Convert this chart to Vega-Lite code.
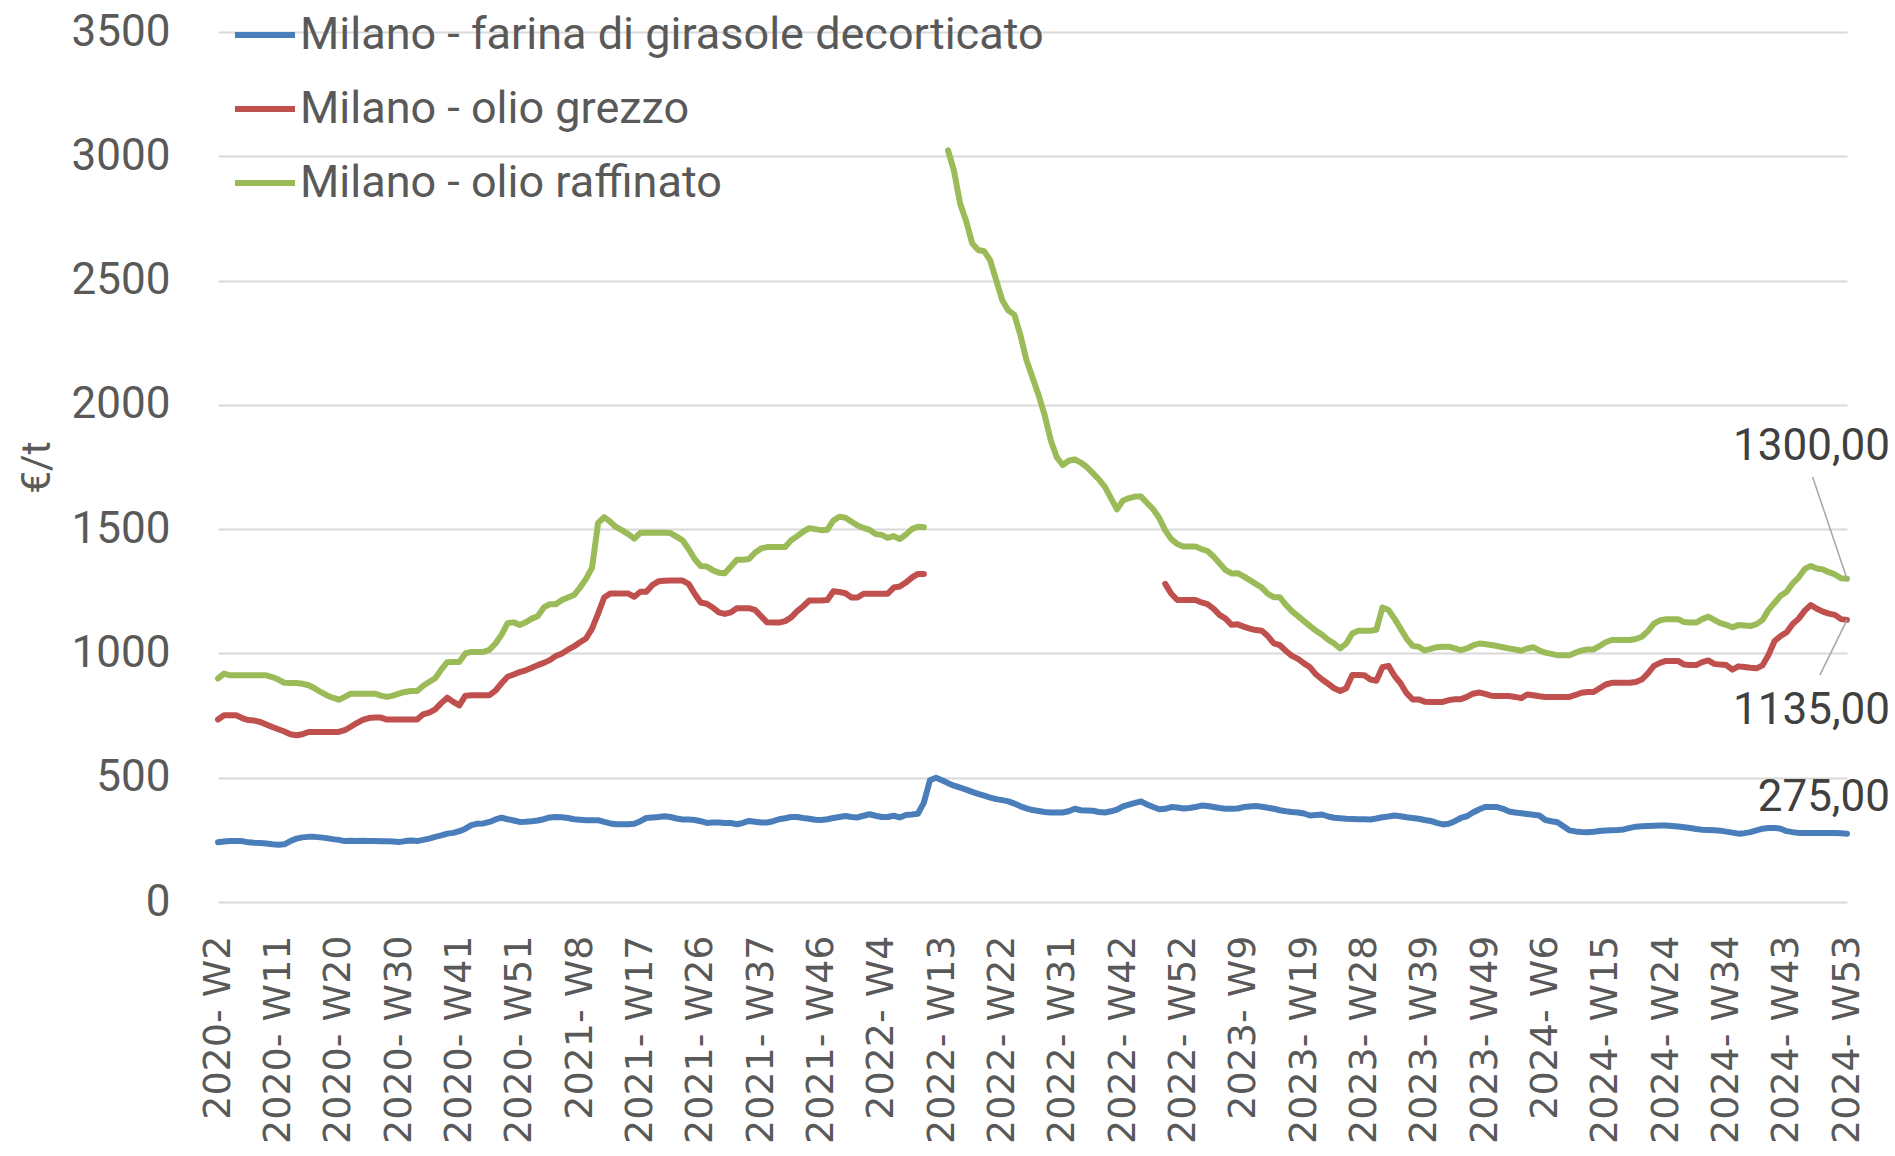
{
"$schema":"https://vega.github.io/schema/vega-lite/v6.json",
"width":1629,"height":870,
"autosize":{"type":"none"},
"padding":{"left":218,"top":32,"right":48,"bottom":254},
"background":"white",
"config":{"view":{"stroke":null},"font":"Roboto","locale":{"number":{"decimal":",","thousands":".","grouping":[3],"currency":["","€"]}}},
"data":{"values":[
{"n":0,"farina":240,"grezzo":734,"raffinato":899},{"n":1,"farina":243,"grezzo":751,"raffinato":919},{"n":2,"farina":245,"grezzo":751,"raffinato":912},{"n":3,"farina":245,"grezzo":751,"raffinato":912},{"n":4,"farina":245,"grezzo":740,"raffinato":912},{"n":5,"farina":240,"grezzo":732,"raffinato":912},{"n":6,"farina":238,"grezzo":730,"raffinato":912},{"n":7,"farina":237,"grezzo":724,"raffinato":912},{"n":8,"farina":235,"grezzo":714,"raffinato":912},{"n":9,"farina":232,"grezzo":704,"raffinato":905},
{"n":10,"farina":230,"grezzo":695,"raffinato":895},{"n":11,"farina":232,"grezzo":686,"raffinato":882},{"n":12,"farina":245,"grezzo":675,"raffinato":881},{"n":13,"farina":255,"grezzo":671,"raffinato":881},{"n":14,"farina":260,"grezzo":675,"raffinato":878},{"n":15,"farina":262,"grezzo":684,"raffinato":872},{"n":16,"farina":262,"grezzo":684,"raffinato":860},{"n":17,"farina":260,"grezzo":684,"raffinato":845},{"n":18,"farina":257,"grezzo":684,"raffinato":832},{"n":19,"farina":253,"grezzo":684,"raffinato":822},
{"n":20,"farina":250,"grezzo":684,"raffinato":814},{"n":21,"farina":245,"grezzo":691,"raffinato":825},{"n":22,"farina":246,"grezzo":705,"raffinato":838},{"n":23,"farina":245,"grezzo":720,"raffinato":838},{"n":24,"farina":246,"grezzo":733,"raffinato":838},{"n":25,"farina":245,"grezzo":740,"raffinato":838},{"n":26,"farina":245,"grezzo":742,"raffinato":838},{"n":27,"farina":244,"grezzo":742,"raffinato":830},{"n":28,"farina":244,"grezzo":734,"raffinato":825},{"n":29,"farina":243,"grezzo":734,"raffinato":830},
{"n":30,"farina":241,"grezzo":734,"raffinato":838},{"n":31,"farina":245,"grezzo":734,"raffinato":845},{"n":32,"farina":247,"grezzo":734,"raffinato":849},{"n":33,"farina":245,"grezzo":734,"raffinato":849},{"n":34,"farina":250,"grezzo":755,"raffinato":870},{"n":35,"farina":255,"grezzo":762,"raffinato":885},{"n":36,"farina":262,"grezzo":775,"raffinato":900},{"n":37,"farina":268,"grezzo":800,"raffinato":935},{"n":38,"farina":275,"grezzo":822,"raffinato":965},{"n":39,"farina":278,"grezzo":805,"raffinato":966},
{"n":40,"farina":285,"grezzo":791,"raffinato":966},{"n":41,"farina":295,"grezzo":830,"raffinato":1000},{"n":42,"farina":309,"grezzo":832,"raffinato":1006},{"n":43,"farina":315,"grezzo":832,"raffinato":1006},{"n":44,"farina":316,"grezzo":832,"raffinato":1006},{"n":45,"farina":322,"grezzo":832,"raffinato":1015},{"n":46,"farina":332,"grezzo":850,"raffinato":1040},{"n":47,"farina":339,"grezzo":880,"raffinato":1075},{"n":48,"farina":333,"grezzo":906,"raffinato":1122},{"n":49,"farina":328,"grezzo":915,"raffinato":1125},
{"n":50,"farina":322,"grezzo":925,"raffinato":1114},{"n":51,"farina":323,"grezzo":932,"raffinato":1125},{"n":52,"farina":325,"grezzo":942,"raffinato":1140},{"n":53,"farina":328,"grezzo":953,"raffinato":1150},{"n":54,"farina":333,"grezzo":962,"raffinato":1185},{"n":55,"farina":340,"grezzo":973,"raffinato":1198},{"n":56,"farina":342,"grezzo":990,"raffinato":1198},{"n":57,"farina":341,"grezzo":1000,"raffinato":1215},{"n":58,"farina":338,"grezzo":1015,"raffinato":1225},{"n":59,"farina":333,"grezzo":1028,"raffinato":1235},
{"n":60,"farina":331,"grezzo":1045,"raffinato":1265},{"n":61,"farina":329,"grezzo":1060,"raffinato":1300},{"n":62,"farina":329,"grezzo":1100,"raffinato":1345},{"n":63,"farina":329,"grezzo":1160,"raffinato":1525},{"n":64,"farina":322,"grezzo":1225,"raffinato":1548},{"n":65,"farina":316,"grezzo":1241,"raffinato":1530},{"n":66,"farina":313,"grezzo":1241,"raffinato":1508},{"n":67,"farina":313,"grezzo":1241,"raffinato":1495},{"n":68,"farina":313,"grezzo":1241,"raffinato":1480},{"n":69,"farina":315,"grezzo":1228,"raffinato":1462},
{"n":70,"farina":325,"grezzo":1248,"raffinato":1485},{"n":71,"farina":338,"grezzo":1248,"raffinato":1485},{"n":72,"farina":340,"grezzo":1275,"raffinato":1485},{"n":73,"farina":342,"grezzo":1290,"raffinato":1485},{"n":74,"farina":345,"grezzo":1292,"raffinato":1485},{"n":75,"farina":342,"grezzo":1293,"raffinato":1484},{"n":76,"farina":336,"grezzo":1293,"raffinato":1470},{"n":77,"farina":332,"grezzo":1293,"raffinato":1455},{"n":78,"farina":332,"grezzo":1280,"raffinato":1420},{"n":79,"farina":330,"grezzo":1240,"raffinato":1380},
{"n":80,"farina":325,"grezzo":1205,"raffinato":1352},{"n":81,"farina":318,"grezzo":1200,"raffinato":1350},{"n":82,"farina":320,"grezzo":1185,"raffinato":1335},{"n":83,"farina":320,"grezzo":1165,"raffinato":1325},{"n":84,"farina":318,"grezzo":1159,"raffinato":1323},{"n":85,"farina":318,"grezzo":1165,"raffinato":1350},{"n":86,"farina":313,"grezzo":1182,"raffinato":1377},{"n":87,"farina":318,"grezzo":1182,"raffinato":1377},{"n":88,"farina":326,"grezzo":1182,"raffinato":1380},{"n":89,"farina":323,"grezzo":1175,"raffinato":1405},
{"n":90,"farina":320,"grezzo":1150,"raffinato":1422},{"n":91,"farina":320,"grezzo":1125,"raffinato":1428},{"n":92,"farina":325,"grezzo":1124,"raffinato":1428},{"n":93,"farina":333,"grezzo":1124,"raffinato":1428},{"n":94,"farina":337,"grezzo":1130,"raffinato":1428},{"n":95,"farina":342,"grezzo":1145,"raffinato":1455},{"n":96,"farina":342,"grezzo":1170,"raffinato":1472},{"n":97,"farina":338,"grezzo":1190,"raffinato":1490},{"n":98,"farina":335,"grezzo":1213,"raffinato":1504},{"n":99,"farina":331,"grezzo":1213,"raffinato":1500},
{"n":100,"farina":330,"grezzo":1213,"raffinato":1496},{"n":101,"farina":333,"grezzo":1215,"raffinato":1498},{"n":102,"farina":338,"grezzo":1250,"raffinato":1535},{"n":103,"farina":342,"grezzo":1247,"raffinato":1550},{"n":104,"farina":346,"grezzo":1242,"raffinato":1546},{"n":105,"farina":342,"grezzo":1225,"raffinato":1530},{"n":106,"farina":340,"grezzo":1225,"raffinato":1515},{"n":107,"farina":347,"grezzo":1240,"raffinato":1505},{"n":108,"farina":353,"grezzo":1240,"raffinato":1497},{"n":109,"farina":347,"grezzo":1240,"raffinato":1480},
{"n":110,"farina":342,"grezzo":1240,"raffinato":1477},{"n":111,"farina":342,"grezzo":1240,"raffinato":1465},{"n":112,"farina":347,"grezzo":1265,"raffinato":1472},{"n":113,"farina":340,"grezzo":1269,"raffinato":1460},{"n":114,"farina":350,"grezzo":1285,"raffinato":1478},{"n":115,"farina":352,"grezzo":1305,"raffinato":1500},{"n":116,"farina":355,"grezzo":1320,"raffinato":1510},{"n":117,"farina":400,"grezzo":1320,"raffinato":1508},{"n":118,"farina":490,"grezzo":null,"raffinato":null},{"n":119,"farina":500,"grezzo":null,"raffinato":null},
{"n":120,"farina":490,"grezzo":null,"raffinato":null},{"n":121,"farina":478,"grezzo":null,"raffinato":3024},{"n":122,"farina":468,"grezzo":null,"raffinato":2940},{"n":123,"farina":460,"grezzo":null,"raffinato":2810},{"n":124,"farina":452,"grezzo":null,"raffinato":2740},{"n":125,"farina":443,"grezzo":null,"raffinato":2650},{"n":126,"farina":435,"grezzo":null,"raffinato":2623},{"n":127,"farina":428,"grezzo":null,"raffinato":2618},{"n":128,"farina":420,"grezzo":null,"raffinato":2580},{"n":129,"farina":414,"grezzo":null,"raffinato":2500},
{"n":130,"farina":410,"grezzo":null,"raffinato":2420},{"n":131,"farina":405,"grezzo":null,"raffinato":2380},{"n":132,"farina":396,"grezzo":null,"raffinato":2362},{"n":133,"farina":385,"grezzo":null,"raffinato":2280},{"n":134,"farina":377,"grezzo":null,"raffinato":2180},{"n":135,"farina":370,"grezzo":null,"raffinato":2110},{"n":136,"farina":366,"grezzo":null,"raffinato":2040},{"n":137,"farina":362,"grezzo":null,"raffinato":1960},{"n":138,"farina":360,"grezzo":null,"raffinato":1860},{"n":139,"farina":360,"grezzo":null,"raffinato":1790},
{"n":140,"farina":360,"grezzo":null,"raffinato":1758},{"n":141,"farina":365,"grezzo":null,"raffinato":1775},{"n":142,"farina":375,"grezzo":null,"raffinato":1781},{"n":143,"farina":369,"grezzo":null,"raffinato":1768},{"n":144,"farina":368,"grezzo":null,"raffinato":1750},{"n":145,"farina":367,"grezzo":null,"raffinato":1725},{"n":146,"farina":362,"grezzo":null,"raffinato":1700},{"n":147,"farina":360,"grezzo":null,"raffinato":1670},{"n":148,"farina":365,"grezzo":null,"raffinato":1625},{"n":149,"farina":372,"grezzo":null,"raffinato":1580},
{"n":150,"farina":385,"grezzo":null,"raffinato":1615},{"n":151,"farina":392,"grezzo":null,"raffinato":1625},{"n":152,"farina":399,"grezzo":null,"raffinato":1631},{"n":153,"farina":405,"grezzo":null,"raffinato":1631},{"n":154,"farina":392,"grezzo":null,"raffinato":1605},{"n":155,"farina":382,"grezzo":null,"raffinato":1580},{"n":156,"farina":373,"grezzo":null,"raffinato":1545},{"n":157,"farina":375,"grezzo":1280,"raffinato":1495},{"n":158,"farina":382,"grezzo":1240,"raffinato":1460},{"n":159,"farina":380,"grezzo":1215,"raffinato":1440},
{"n":160,"farina":376,"grezzo":1215,"raffinato":1430},{"n":161,"farina":378,"grezzo":1215,"raffinato":1430},{"n":162,"farina":382,"grezzo":1215,"raffinato":1430},{"n":163,"farina":388,"grezzo":1205,"raffinato":1420},{"n":164,"farina":386,"grezzo":1198,"raffinato":1412},{"n":165,"farina":382,"grezzo":1180,"raffinato":1390},{"n":166,"farina":378,"grezzo":1155,"raffinato":1363},{"n":167,"farina":375,"grezzo":1140,"raffinato":1335},{"n":168,"farina":375,"grezzo":1115,"raffinato":1322},{"n":169,"farina":376,"grezzo":1117,"raffinato":1323},
{"n":170,"farina":382,"grezzo":1108,"raffinato":1310},{"n":171,"farina":384,"grezzo":1100,"raffinato":1295},{"n":172,"farina":386,"grezzo":1094,"raffinato":1280},{"n":173,"farina":383,"grezzo":1091,"raffinato":1265},{"n":174,"farina":379,"grezzo":1070,"raffinato":1240},{"n":175,"farina":375,"grezzo":1040,"raffinato":1226},{"n":176,"farina":369,"grezzo":1033,"raffinato":1226},{"n":177,"farina":365,"grezzo":1010,"raffinato":1195},{"n":178,"farina":362,"grezzo":990,"raffinato":1170},{"n":179,"farina":360,"grezzo":978,"raffinato":1150},
{"n":180,"farina":356,"grezzo":960,"raffinato":1130},{"n":181,"farina":348,"grezzo":944,"raffinato":1110},{"n":182,"farina":350,"grezzo":915,"raffinato":1091},{"n":183,"farina":352,"grezzo":895,"raffinato":1075},{"n":184,"farina":344,"grezzo":878,"raffinato":1055},{"n":185,"farina":339,"grezzo":860,"raffinato":1040},{"n":186,"farina":337,"grezzo":849,"raffinato":1020},{"n":187,"farina":335,"grezzo":860,"raffinato":1040},{"n":188,"farina":334,"grezzo":913,"raffinato":1080},{"n":189,"farina":333,"grezzo":913,"raffinato":1091},
{"n":190,"farina":333,"grezzo":912,"raffinato":1091},{"n":191,"farina":332,"grezzo":895,"raffinato":1091},{"n":192,"farina":336,"grezzo":890,"raffinato":1095},{"n":193,"farina":341,"grezzo":945,"raffinato":1185},{"n":194,"farina":344,"grezzo":950,"raffinato":1175},{"n":195,"farina":348,"grezzo":910,"raffinato":1140},{"n":196,"farina":345,"grezzo":880,"raffinato":1100},{"n":197,"farina":341,"grezzo":840,"raffinato":1060},{"n":198,"farina":338,"grezzo":815,"raffinato":1030},{"n":199,"farina":335,"grezzo":815,"raffinato":1027},
{"n":200,"farina":330,"grezzo":806,"raffinato":1012},{"n":201,"farina":326,"grezzo":805,"raffinato":1018},{"n":202,"farina":318,"grezzo":805,"raffinato":1025},{"n":203,"farina":312,"grezzo":805,"raffinato":1027},{"n":204,"farina":315,"grezzo":812,"raffinato":1027},{"n":205,"farina":325,"grezzo":816,"raffinato":1020},{"n":206,"farina":338,"grezzo":816,"raffinato":1013},{"n":207,"farina":345,"grezzo":825,"raffinato":1020},{"n":208,"farina":360,"grezzo":838,"raffinato":1032},{"n":209,"farina":372,"grezzo":843,"raffinato":1040},
{"n":210,"farina":382,"grezzo":837,"raffinato":1038},{"n":211,"farina":382,"grezzo":830,"raffinato":1034},{"n":212,"farina":382,"grezzo":829,"raffinato":1030},{"n":213,"farina":375,"grezzo":829,"raffinato":1025},{"n":214,"farina":364,"grezzo":829,"raffinato":1020},{"n":215,"farina":360,"grezzo":825,"raffinato":1016},{"n":216,"farina":357,"grezzo":820,"raffinato":1011},{"n":217,"farina":354,"grezzo":835,"raffinato":1020},{"n":218,"farina":351,"grezzo":832,"raffinato":1025},{"n":219,"farina":348,"grezzo":828,"raffinato":1012},
{"n":220,"farina":330,"grezzo":825,"raffinato":1003},{"n":221,"farina":325,"grezzo":825,"raffinato":998},{"n":222,"farina":321,"grezzo":825,"raffinato":993},{"n":223,"farina":305,"grezzo":825,"raffinato":993},{"n":224,"farina":288,"grezzo":825,"raffinato":993},{"n":225,"farina":284,"grezzo":833,"raffinato":1003},{"n":226,"farina":282,"grezzo":842,"raffinato":1012},{"n":227,"farina":281,"grezzo":845,"raffinato":1016},{"n":228,"farina":283,"grezzo":845,"raffinato":1016},{"n":229,"farina":286,"grezzo":860,"raffinato":1030},
{"n":230,"farina":288,"grezzo":875,"raffinato":1045},{"n":231,"farina":289,"grezzo":882,"raffinato":1054},{"n":232,"farina":290,"grezzo":882,"raffinato":1054},{"n":233,"farina":292,"grezzo":882,"raffinato":1054},{"n":234,"farina":298,"grezzo":882,"raffinato":1054},{"n":235,"farina":303,"grezzo":885,"raffinato":1058},{"n":236,"farina":305,"grezzo":895,"raffinato":1067},{"n":237,"farina":306,"grezzo":920,"raffinato":1090},{"n":238,"farina":307,"grezzo":950,"raffinato":1120},{"n":239,"farina":308,"grezzo":962,"raffinato":1133},
{"n":240,"farina":308,"grezzo":970,"raffinato":1138},{"n":241,"farina":306,"grezzo":970,"raffinato":1138},{"n":242,"farina":304,"grezzo":970,"raffinato":1138},{"n":243,"farina":301,"grezzo":955,"raffinato":1126},{"n":244,"farina":298,"grezzo":953,"raffinato":1124},{"n":245,"farina":294,"grezzo":953,"raffinato":1124},{"n":246,"farina":291,"grezzo":965,"raffinato":1138},{"n":247,"farina":290,"grezzo":972,"raffinato":1148},{"n":248,"farina":289,"grezzo":958,"raffinato":1135},{"n":249,"farina":287,"grezzo":955,"raffinato":1122},
{"n":250,"farina":283,"grezzo":953,"raffinato":1115},{"n":251,"farina":279,"grezzo":935,"raffinato":1105},{"n":252,"farina":275,"grezzo":948,"raffinato":1114},{"n":253,"farina":277,"grezzo":945,"raffinato":1112},{"n":254,"farina":281,"grezzo":942,"raffinato":1110},{"n":255,"farina":288,"grezzo":940,"raffinato":1118},{"n":256,"farina":295,"grezzo":952,"raffinato":1135},{"n":257,"farina":298,"grezzo":995,"raffinato":1175},{"n":258,"farina":298,"grezzo":1050,"raffinato":1204},{"n":259,"farina":295,"grezzo":1070,"raffinato":1232},
{"n":260,"farina":285,"grezzo":1085,"raffinato":1248},{"n":261,"farina":281,"grezzo":1118,"raffinato":1282},{"n":262,"farina":278,"grezzo":1140,"raffinato":1306},{"n":263,"farina":278,"grezzo":1172,"raffinato":1340},{"n":264,"farina":278,"grezzo":1195,"raffinato":1352},{"n":265,"farina":278,"grezzo":1180,"raffinato":1342},{"n":266,"farina":278,"grezzo":1168,"raffinato":1338},{"n":267,"farina":278,"grezzo":1160,"raffinato":1327},{"n":268,"farina":278,"grezzo":1155,"raffinato":1318},{"n":269,"farina":277,"grezzo":1138,"raffinato":1302},
{"n":270,"farina":275,"grezzo":1135,"raffinato":1300}
]},
"transform":[{"fold":["farina","grezzo","raffinato"],"as":["serie","valore"]}],
"layer":[
{"mark":{"type":"line","strokeWidth":6,"strokeCap":"round","strokeJoin":"round"},
 "encoding":{
  "x":{"field":"n","type":"quantitative","scale":{"domain":[0,270],"nice":false,"zero":false},
   "axis":{"values":[0,10,20,30,40,50,60,70,80,90,100,110,120,130,140,150,160,170,180,190,200,210,220,230,240,250,260,270],
    "labelExpr":"['2020- W2','2020- W11','2020- W20','2020- W30','2020- W41','2020- W51','2021- W8','2021- W17','2021- W26','2021- W37','2021- W46','2022- W4','2022- W13','2022- W22','2022- W31','2022- W42','2022- W52','2023- W9','2023- W19','2023- W28','2023- W39','2023- W49','2024- W6','2024- W15','2024- W24','2024- W34','2024- W43','2024- W53'][round(datum.value/10)]",
    "labelAngle":270,"labelFont":"DejaVu Sans","labelFontSize":38,"labelColor":"#595959","labelPadding":33,"labelOverlap":false,"labelFlush":false,"labelBound":false,"labelLimit":0,"domain":false,"ticks":false,"grid":false,"title":null}},
  "y":{"field":"valore","type":"quantitative","scale":{"domain":[0,3500],"nice":false},
   "axis":{"values":[0,500,1000,1500,2000,2500,3000,3500],"format":"d","labelFont":"Roboto","labelFontSize":44,"labelColor":"#595959","labelPadding":48,"domain":false,"ticks":false,"gridColor":"#D9D9D9","gridWidth":2,
    "title":"€/t","titleFont":"Roboto","titleFontSize":40,"titleFontWeight":"normal","titleColor":"#595959","titlePadding":14}},
  "color":{"field":"serie","type":"nominal","scale":{"domain":["farina","grezzo","raffinato"],"range":["#4A7EBB","#C0504D","#9BBB59"]},
   "legend":{"title":null,"orient":"none","legendX":14,"legendY":-30,"symbolType":"stroke","symbolSize":3600,"symbolStrokeWidth":6,"labelFont":"Roboto","labelFontSize":45,"labelColor":"#595959","labelOffset":2,"labelLimit":0,"rowPadding":18,
    "labelExpr":"{'farina':'Milano - farina di girasole decorticato','grezzo':'Milano - olio grezzo','raffinato':'Milano - olio raffinato'}[datum.value]"}}
 }},
{"transform":[{"filter":"datum.n == 270 && datum.serie == 'raffinato'"}],
 "mark":{"type":"rule","color":"#A6A6A6","strokeWidth":1.5},
 "encoding":{"x":{"field":"n","type":"quantitative"},"y":{"field":"valore","type":"quantitative"},"x2":{"datum":264.3},"y2":{"datum":1710}}},
{"transform":[{"filter":"datum.n == 270 && datum.serie == 'grezzo'"}],
 "mark":{"type":"rule","color":"#A6A6A6","strokeWidth":1.5},
 "encoding":{"x":{"field":"n","type":"quantitative"},"y":{"field":"valore","type":"quantitative"},"x2":{"datum":265.5},"y2":{"datum":913}}},
{"transform":[{"filter":"datum.n == 270 && datum.serie == 'raffinato'"}],
 "mark":{"type":"text","align":"right","baseline":"middle","dx":43,"dy":-132,"font":"Roboto","fontSize":44,"color":"#404040"},
 "encoding":{"x":{"field":"n","type":"quantitative"},"y":{"field":"valore","type":"quantitative"},"text":{"field":"valore","type":"quantitative","format":".2f"}}},
{"transform":[{"filter":"datum.n == 270 && datum.serie == 'grezzo'"}],
 "mark":{"type":"text","align":"right","baseline":"middle","dx":43,"dy":91,"font":"Roboto","fontSize":44,"color":"#404040"},
 "encoding":{"x":{"field":"n","type":"quantitative"},"y":{"field":"valore","type":"quantitative"},"text":{"field":"valore","type":"quantitative","format":".2f"}}},
{"transform":[{"filter":"datum.n == 270 && datum.serie == 'farina'"}],
 "mark":{"type":"text","align":"right","baseline":"middle","dx":43,"dy":-36,"font":"Roboto","fontSize":44,"color":"#404040"},
 "encoding":{"x":{"field":"n","type":"quantitative"},"y":{"field":"valore","type":"quantitative"},"text":{"field":"valore","type":"quantitative","format":".2f"}}}
]
}
